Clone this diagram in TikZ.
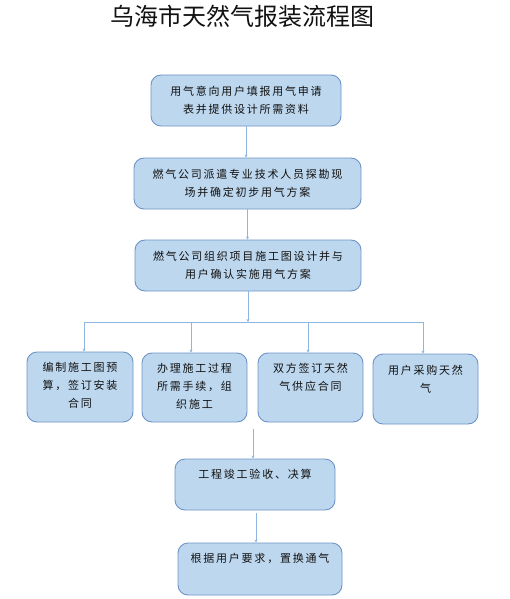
\documentclass[tikz,border=0pt]{standalone}
\usepackage{fontspec}
\setmainfont{Noto Sans CJK SC}
\newfontfamily\cjkbox[LetterSpace=16]{Noto Sans CJK SC}
\usetikzlibrary{arrows.meta}
\definecolor{boxfill}{HTML}{BDD7EE}
\definecolor{boxline}{HTML}{6F93C6}
\definecolor{arrowc}{HTML}{8DB6E0}
\definecolor{txt}{HTML}{111111}
\tikzset{
  flowbox/.style={draw=boxline, line width=0.9pt, fill=boxfill, rounded corners=10pt, inner sep=0pt},
  boxtext/.style={font=\cjkbox\fontsize{11}{18}\selectfont, text=txt, align=center, inner sep=0pt},
  flowarrow/.style={draw=arrowc, line width=0.7pt, -{Stealth[length=3pt,width=3pt]}},
  busline/.style={draw=arrowc, line width=0.7pt}
}
\begin{document}
\begin{tikzpicture}[x=1pt,y=-1pt]
\useasboundingbox (0,0) rectangle (510,599);
\node[font=\fontsize{24}{28}\selectfont, text=txt, inner sep=0pt] (title) at (242,16) {乌海市天然气报装流程图};

\node[flowbox, minimum width=190pt, minimum height=51pt, boxtext] (b1) at (246,100.5) {用气意向用户填报用气申请\\表并提供设计所需资料};
\node[flowbox, minimum width=227pt, minimum height=51pt, boxtext] (b2) at (247.5,183.5) {燃气公司派遣专业技术人员探勘现\\场并确定初步用气方案};
\node[flowbox, minimum width=226pt, minimum height=51pt, boxtext] (b3) at (248,265.5) {燃气公司组织项目施工图设计并与\\用户确认实施用气方案};

\node[flowbox, minimum width=106pt, minimum height=70pt] (b4) at (80,387) {};
\node[flowbox, minimum width=105pt, minimum height=69pt] (b5) at (194.5,387.5) {};
\node[flowbox, minimum width=105pt, minimum height=69pt] (b6) at (310.5,387.5) {};
\node[flowbox, minimum width=105pt, minimum height=70pt] (b7) at (425.5,389) {};
\node[flowbox, minimum width=160pt, minimum height=51pt] (b8) at (255,484.5) {};
\node[flowbox, minimum width=164pt, minimum height=52pt] (b9) at (260,569) {};

\node[boxtext, anchor=north] (t4) at ([yshift=-10pt]b4.north) {编制施工图预\\算，签订安装\\合同};
\node[boxtext, anchor=north] (t5) at ([yshift=-10pt]b5.north) {办理施工过程\\所需手续，组\\织施工};
\node[boxtext, anchor=north] (t6) at ([yshift=-10pt]b6.north) {双方签订天然\\气供应合同};
\node[boxtext, anchor=north] (t7) at ([yshift=-11pt]b7.north) {用户采购天然\\气};
\node[boxtext, anchor=north] (t8) at ([yshift=-10pt]b8.north) {工程竣工验收、决算};
\node[boxtext, anchor=north] (t9) at ([yshift=-10pt]b9.north) {根据用户要求，置换通气};

\draw[flowarrow] (b1.south) -- (b1.south |- b2.north);
\draw[flowarrow] (b2.south) -- (b2.south |- b3.north);

\coordinate (bus) at (248,322);
\coordinate (busL) at (84,322);
\coordinate (busR) at (423,322);
\coordinate (bus5) at (191,322);
\coordinate (bus6) at (308,322);
\draw[flowarrow] (b3.south) -- (bus);
\draw[busline] (busL) -- (busR);
\draw[flowarrow] (busL) -- (busL |- b4.north);
\draw[flowarrow] (bus5) -- (bus5 |- b5.north);
\draw[flowarrow] (bus6) -- (bus6 |- b6.north);
\draw[flowarrow] (busR) -- (busR |- b7.north);

\coordinate (free1) at (253,429);
\draw[flowarrow] (free1) -- (free1 |- b8.north);
\coordinate (free2) at (256,513);
\draw[flowarrow] (free2) -- (free2 |- b9.north);
\end{tikzpicture}
\end{document}
